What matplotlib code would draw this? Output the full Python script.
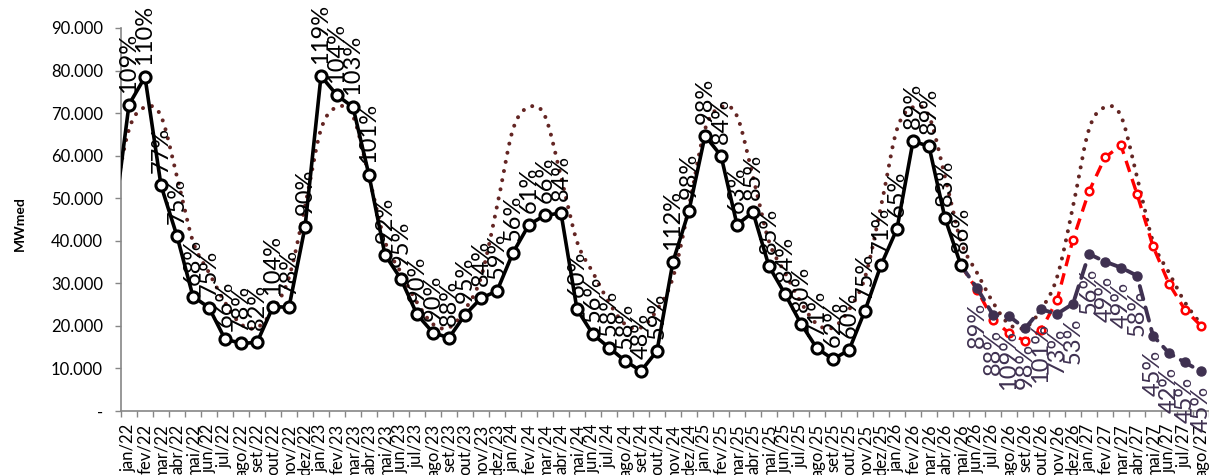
import numpy as np
import matplotlib
matplotlib.use("Agg")
import matplotlib.pyplot as plt
from matplotlib.ticker import FuncFormatter, FixedLocator

plt.rcParams['font.family'] = ['Lato', 'DejaVu Sans']

# categories: jan/22 .. ago/27 (index 0..67); index -1 = dez/21 (clipped at the left edge)
month_names = ['jan', 'fev', 'mar', 'abr', 'mai', 'jun', 'jul', 'ago', 'set', 'out', 'nov', 'dez']
months = [f"{m}/{y}" for y in range(22, 28) for m in month_names][:68]

# long term mean (MLT), dez/21 .. ago/27, MWmed
mlt = [48000,
       66200, 71400, 69300, 55000, 39800, 32500, 25500, 20400, 19600, 23800, 31400, 48000,
       66200, 71400, 69300, 55000, 39800, 32500, 25500, 20400, 19600, 23800, 31400, 48000,
       66200, 71400, 69300, 55000, 39800, 32500, 25500, 20400, 19600, 23800, 31400, 48000,
       66200, 71400, 69300, 55000, 39800, 32500, 25500, 20400, 19600, 23800, 31400, 48000,
       66200, 71400, 69300, 55000, 39800, 32500, 25500, 20400, 19600, 23800, 31400, 48000,
       66200, 71400, 69300, 55000, 39800, 32500, 25500, 20400]

# verified energy, dez/21 .. mai/26
verified = [42800,
            72000, 78500, 53000, 41100, 26900, 24300, 16900, 15900, 16100, 24500, 24400, 43200,
            78700, 74200, 71400, 55400, 36700, 31000, 22700, 18400, 17200, 22600, 26500, 28200,
            37200, 43800, 46000, 46500, 23900, 18000, 14900, 11800, 9400, 14100, 35100, 47100,
            64700, 60000, 43800, 46700, 34000, 27500, 20500, 14700, 12200, 14300, 23600, 34300,
            42800, 63400, 62200, 45300, 34200]
verified_pct = ['109%', '110%', '77%', '75%', '68%', '75%', '66%', '78%', '82%', '104%', '78%', '90%',
                '119%', '104%', '103%', '101%', '92%', '95%', '90%', '90%', '88%', '95%', '84%', '59%',
                '56%', '61%', '66%', '84%', '60%', '56%', '58%', '58%', '48%', '59%', '112%', '98%',
                '98%', '84%', '63%', '85%', '85%', '84%', '80%', '71%', '62%', '60%', '75%', '71%',
                '65%', '89%', '89%', '83%', '86%']

# scenarios, mai/26 .. ago/27 (first value = last verified)
upper = [34200, 28500, 21500, 18300, 16500, 19000, 26000, 40300,
         51600, 59600, 62400, 51000, 38700, 29900, 23800, 20000]
lower = [34200, 28900, 22600, 22300, 19400, 23900, 22800, 25200,
         36900, 35100, 33700, 31800, 17700, 13600, 11400, 9300]
lower_pct = ['89%', '88%', '109%', '98%', '101%', '73%', '53%',
             '56%', '49%', '49%', '58%', '45%', '42%', '45%', '45%']


def catmull_rom(x, y, n=24):
    pts = np.column_stack([x, y]).astype(float)
    pts = np.vstack([pts[0], pts, pts[-1]])
    out = []
    for i in range(1, len(pts) - 2):
        p0, p1, p2, p3 = pts[i - 1], pts[i], pts[i + 1], pts[i + 2]
        t = np.linspace(0, 1, n)[:, None]
        seg = 0.5 * (2 * p1 + (-p0 + p2) * t + (2 * p0 - 5 * p1 + 4 * p2 - p3) * t ** 2
                     + (-p0 + 3 * p1 - 3 * p2 + p3) * t ** 3)
        out.append(seg if i == 1 else seg[1:])
    out = np.vstack(out)
    return out[:, 0], out[:, 1]


purple = '#3F3151'
maroon = '#632523'

fig = plt.figure(figsize=(12.09, 4.75), dpi=100)
ax = fig.add_axes([121 / 1209, 64 / 475, 1088 / 1209, 383 / 475])

x_mlt = np.arange(-1, len(mlt) - 1)
sx, sy = catmull_rom(x_mlt, mlt)
ax.plot(sx, sy, color=maroon, lw=2.9, linestyle=(0, (0.01, 2.3)),
        dash_capstyle='round', zorder=2)

x_ver = np.arange(-1, len(verified) - 1)
ax.plot(x_ver, verified, color='black', lw=2.6, marker='o', ms=8,
        mfc='white', mec='black', mew=2.2, zorder=5)

x_sc = np.arange(52, 52 + len(upper))
ax.plot(x_sc, upper, color='red', lw=2.4, linestyle=(0, (3.5, 2.2)),
        marker='o', ms=5.5, mfc='white', mec='red', mew=1.8, zorder=3)
ax.plot(x_sc[0:2], lower[0:2], color=purple, lw=2.8, linestyle=(0, (3.5, 2.2)),
        dash_capstyle='round', zorder=4)
ax.plot(x_sc[1:], lower[1:], color=purple, lw=2.8, linestyle=(0, (3.5, 2.2)),
        dash_capstyle='round', marker='o', ms=6.5, mfc=purple, mec=purple, zorder=4)

for i, (v, p) in enumerate(zip(verified[1:], verified_pct)):
    ax.annotate(p, (i, v), xytext=(0, 12), textcoords='offset pixels',
                rotation=90, ha='center', va='bottom', fontsize=17, color='black',
                zorder=6)
for xi, v, p in zip(x_sc[1:], lower[1:], lower_pct):
    ax.annotate(p, (xi, v), xytext=(0, -14), textcoords='offset pixels',
                rotation=90, ha='center', va='top', fontsize=17, color=purple,
                zorder=6, annotation_clip=False)

ax.set_xlim(-0.5, 67.5)
ax.set_ylim(0, 90000)
ax.yaxis.set_major_locator(FixedLocator(np.arange(0, 90001, 10000)))
ax.yaxis.set_major_formatter(FuncFormatter(
    lambda v, pos: '-' if v == 0 else f"{v:,.0f}".replace(',', '.')))
ax.set_xticks(np.arange(68))
ax.set_xticklabels(months, rotation=90, fontsize=12)
ax.set_xticks(np.arange(-0.5, 68, 1), minor=True)
ax.tick_params(axis='x', which='major', length=0, pad=9)
ax.tick_params(axis='x', which='minor', length=4, color='#868686', width=1)
ax.tick_params(axis='y', length=4, color='#868686', width=1, labelsize=12, pad=9)

for side in ('top', 'right'):
    ax.spines[side].set_visible(False)
for side in ('left', 'bottom'):
    ax.spines[side].set_color('#868686')
    ax.spines[side].set_linewidth(1.2)

ax.set_ylabel('MWmed', fontsize=10, fontweight='bold')
ax.yaxis.set_label_coords(-0.087, 0.49)

fig.savefig('out.png', dpi=100)
